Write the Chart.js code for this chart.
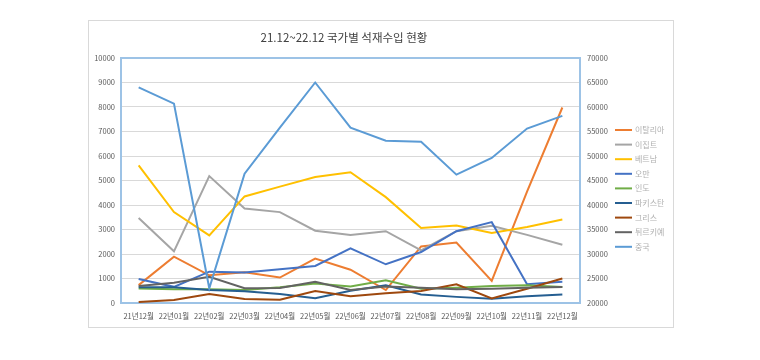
<!DOCTYPE html>
<html>
<head>
<meta charset="utf-8">
<script src="https://cdn.jsdelivr.net/npm/chart.js@4"></script>
<style>
  html, body { margin: 0; padding: 0; background: #fff; }
  #wrap { width: 760px; height: 360px; }
</style>
</head>
<body>
<div id="wrap"><canvas id="chart" width="760" height="360"></canvas></div>
<script>
const months = ['21년12월', '22년01월', '22년02월', '22년03월', '22년04월', '22년05월', '22년06월',
  '22년07월', '22년08월', '22년09월', '22년10월', '22년11월', '22년12월'];

const italy    = [730, 1890, 1130, 1250, 1040, 1810, 1360, 530, 2310, 2470, 900, 4550, 7980];
const egypt    = [3470, 2110, 5180, 3860, 3710, 2950, 2780, 2930, 2150, 2930, 3150, 2780, 2380];
const vietnam  = [5620, 3710, 2760, 4350, 4750, 5140, 5340, 4320, 3060, 3160, 2860, 3100, 3410];
const oman     = [980, 660, 1280, 1250, 1380, 1510, 2230, 1580, 2080, 2930, 3300, 770, 870];
const india    = [590, 560, 560, 530, 640, 800, 670, 930, 580, 620, 690, 720, 650];
const pakistan = [640, 640, 530, 480, 370, 190, 500, 720, 350, 250, 170, 280, 350];
const greece   = [40, 120, 370, 160, 130, 490, 280, 400, 490, 760, 190, 580, 1000];
const turkey   = [690, 830, 1070, 600, 610, 870, 530, 670, 620, 560, 580, 620, 650];
const china    = [64000, 60700, 23000, 46400, 55800, 65000, 55800, 53100, 52900, 46200, 49600, 55600, 58200];

const titleText = '21.12~22.12 국가별 석재수입 현황';
const fontKR = '"Noto Sans CJK KR", "Noto Sans", sans-serif';

const series = [
  { label: '이탈리아', data: italy, color: '#ED7D31', axis: 'y' },
  { label: '이집트', data: egypt, color: '#A5A5A5', axis: 'y' },
  { label: '베트남', data: vietnam, color: '#FFC000', axis: 'y' },
  { label: '오만', data: oman, color: '#4472C4', axis: 'y' },
  { label: '인도', data: india, color: '#70AD47', axis: 'y' },
  { label: '파키스탄', data: pakistan, color: '#255E91', axis: 'y' },
  { label: '그리스', data: greece, color: '#9E480E', axis: 'y' },
  { label: '튀르키예', data: turkey, color: '#636363', axis: 'y' },
  { label: '중국', data: china, color: '#5B9BD5', axis: 'y2' }
];

// frame, title, plot border and legend
const decor = {
  id: 'decor',
  beforeDraw(chart) {
    const ctx = chart.ctx;
    ctx.save();
    ctx.strokeStyle = '#d9d9d9';
    ctx.lineWidth = 1;
    ctx.strokeRect(88.5, 20.5, 585, 307);
    ctx.fillStyle = '#404040';
    ctx.font = '11.5px ' + fontKR;
    ctx.textAlign = 'center';
    ctx.textBaseline = 'middle';
    ctx.fillText(titleText, 344, 38);
    ctx.restore();
  },
  beforeDatasetsDraw(chart) {
    const ctx = chart.ctx;
    const a = chart.chartArea;
    ctx.save();
    ctx.strokeStyle = '#9DC3E6';
    ctx.lineWidth = 2;
    ctx.strokeRect(a.left, a.top, a.right - a.left, a.bottom - a.top);
    ctx.restore();
  },
  afterDraw(chart) {
    const ctx = chart.ctx;
    ctx.save();
    ctx.font = '8px ' + fontKR;
    ctx.textBaseline = 'middle';
    ctx.textAlign = 'left';
    chart.data.datasets.forEach((ds, i) => {
      const y = 130 + i * 14.6;
      ctx.strokeStyle = ds.borderColor;
      ctx.lineWidth = 2;
      ctx.beginPath();
      ctx.moveTo(615, y);
      ctx.lineTo(632, y);
      ctx.stroke();
      ctx.fillStyle = '#b0b0b0';
      ctx.fillText(ds.label, 635, y);
    });
    ctx.restore();
  }
};

const plain = (v) => String(v);

new Chart(document.getElementById('chart'), {
  type: 'line',
  data: {
    labels: months,
    datasets: series.map((s, i) => ({
      label: s.label,
      data: s.data,
      borderColor: s.color,
      backgroundColor: s.color,
      borderWidth: 2,
      pointRadius: 0,
      tension: 0,
      yAxisID: s.axis,
      order: series.length - i
    }))
  },
  options: {
    responsive: false,
    animation: false,
    layout: { padding: { top: 58, left: 0, right: 0, bottom: 0 } },
    plugins: { legend: { display: false }, title: { display: false }, tooltip: { enabled: false } },
    scales: {
      x: {
        offset: true,
        grid: { display: false, drawTicks: false },
        border: { color: '#9DC3E6', width: 2 },
        ticks: { color: '#595959', font: { size: 7.5, family: fontKR }, padding: 9, maxRotation: 0, autoSkip: false },
        afterFit(scale) { scale.height = 57; }
      },
      y: {
        position: 'left',
        min: 0, max: 10000,
        grid: { color: '#d9d9d9', drawTicks: false },
        border: { color: '#9DC3E6', width: 2 },
        ticks: { stepSize: 1000, callback: plain, color: '#595959', font: { size: 7.5, family: fontKR }, padding: 6 },
        afterFit(scale) { scale.width = 121; }
      },
      y2: {
        position: 'right',
        min: 20000, max: 70000,
        grid: { drawOnChartArea: false, drawTicks: false },
        border: { color: '#9DC3E6', width: 2 },
        ticks: { stepSize: 5000, callback: plain, color: '#595959', font: { size: 7.5, family: fontKR }, padding: 7 },
        afterFit(scale) { scale.width = 180; }
      }
    }
  },
  plugins: [decor]
});
</script>
</body>
</html>
